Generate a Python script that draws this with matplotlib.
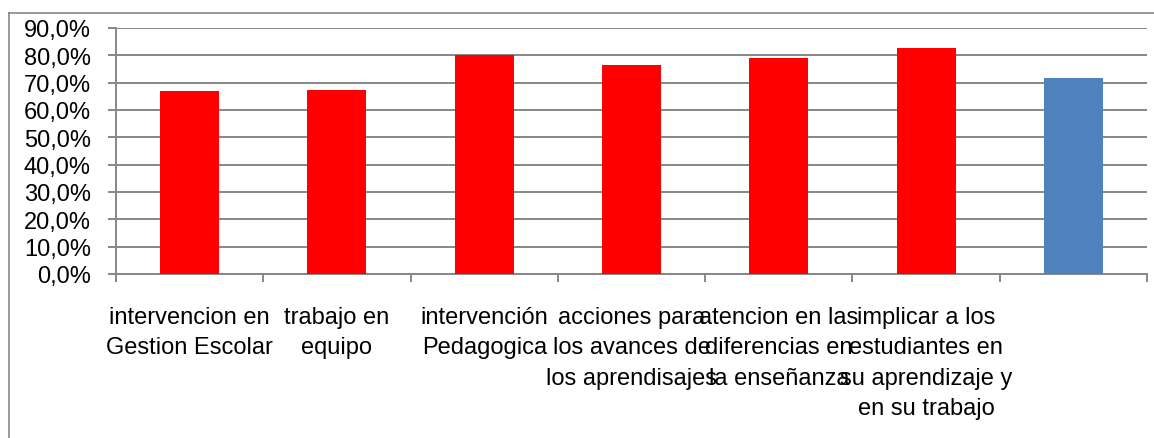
import matplotlib.pyplot as plt
from matplotlib.lines import Line2D
from matplotlib.ticker import FuncFormatter

plt.rcParams['font.family'] = ['Liberation Sans', 'DejaVu Sans']

# data
categories = ["intervencion en\nGestion Escolar",
              "trabajo en\nequipo",
              "intervención\nPedagogica",
              "acciones para\nlos avances de\nlos aprendisajes",
              "atencion en las\ndiferencias en\nla enseñanza",
              "implicar a los\nestudiantes en\nsu aprendizaje y\nen su trabajo",
              ""]
values = [0.671, 0.673, 0.803, 0.765, 0.789, 0.827, 0.716]
colors = ["#FF0000", "#FF0000", "#FF0000", "#FF0000", "#FF0000", "#FF0000", "#4F81BD"]
yticks = [0.0, 0.1, 0.2, 0.3, 0.4, 0.5, 0.6, 0.7, 0.8, 0.9]

gray = "#878787"

fig = plt.figure(figsize=(11.54, 4.39), dpi=100)
ax = fig.add_axes([116/1154, 1 - 275/439, (1147 - 116)/1154, (275 - 29)/439])

x = list(range(len(categories)))
ax.bar(x, values, width=0.4, color=colors, zorder=3)

ax.set_ylim(0, 0.9)
ax.set_xlim(-0.5, len(categories) - 0.5)
ax.set_yticks(yticks)
ax.yaxis.set_major_formatter(FuncFormatter(lambda v, p: f"{v*100:.1f}%".replace(".", ",")))
ax.yaxis.grid(True, color=gray, linewidth=1.4, zorder=0)
ax.set_axisbelow(True)

# category boundaries get tick marks, the labels sit at the centres
ax.set_xticks([i - 0.5 for i in range(len(categories) + 1)])
ax.set_xticklabels([])
ax.set_xticks(x, minor=True)
ax.set_xticklabels(categories, minor=True, fontsize=17, linespacing=1.5)
ax.tick_params(axis='x', which='minor', length=0, pad=23)
ax.tick_params(axis='x', which='major', length=6, width=1.4, color=gray, direction='out')
ax.tick_params(axis='y', length=6, width=1.4, color=gray, labelsize=17, pad=12)

for side in ['top', 'right']:
    ax.spines[side].set_visible(False)
for side in ['left', 'bottom']:
    ax.spines[side].set_color(gray)
    ax.spines[side].set_linewidth(1.4)

# outer chart-area border (only top and left edges show in the crop)
fig.add_artist(Line2D([8.5/1154, 8.5/1154], [0, 1 - 13.5/439], color=gray, linewidth=1.2))
fig.add_artist(Line2D([8.5/1154, 1], [1 - 13.5/439, 1 - 13.5/439], color=gray, linewidth=1.2))

fig.savefig("out.png", dpi=100)
